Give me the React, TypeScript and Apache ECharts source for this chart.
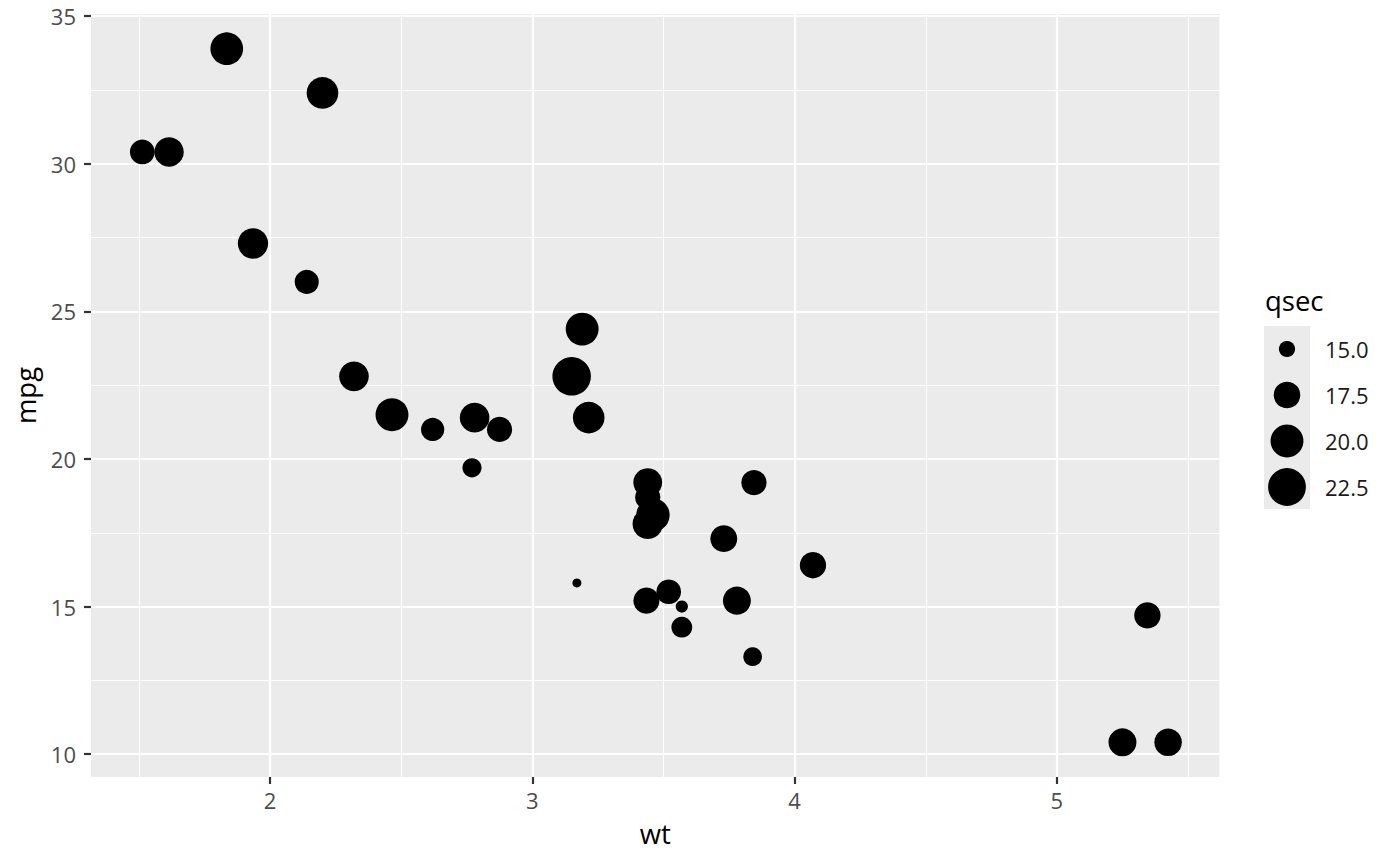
import React, { useEffect, useRef } from "react";
import * as echarts from "echarts";

// mtcars: weight (1000 lbs), miles per gallon, quarter-mile time
const wt = [2.62, 2.875, 2.32, 3.215, 3.44, 3.46, 3.57, 3.19, 3.15, 3.44, 3.44, 4.07, 3.73, 3.78, 5.25, 5.424, 5.345, 2.2, 1.615, 1.835, 2.465, 3.52, 3.435, 3.84, 3.845, 1.935, 2.14, 1.513, 3.17, 2.77, 3.57, 2.78];
const mpg = [21.0, 21.0, 22.8, 21.4, 18.7, 18.1, 14.3, 24.4, 22.8, 19.2, 17.8, 16.4, 17.3, 15.2, 10.4, 10.4, 14.7, 32.4, 30.4, 33.9, 21.5, 15.5, 15.2, 13.3, 19.2, 27.3, 26.0, 30.4, 15.8, 19.7, 15.0, 21.4];
const qsec = [16.46, 17.02, 18.61, 19.44, 17.02, 20.22, 15.84, 20.0, 22.9, 18.3, 18.9, 17.4, 17.6, 18.0, 17.98, 17.82, 17.42, 19.47, 18.52, 19.9, 20.01, 16.87, 17.3, 15.41, 17.05, 18.9, 16.7, 16.9, 14.5, 15.5, 14.6, 18.6];

const xTicks = [2, 3, 4, 5];
const xMinor = [1.5, 2.5, 3.5, 4.5, 5.5];
const yTicks = [10, 15, 20, 25, 30, 35];
const yMinor = [12.5, 17.5, 22.5, 27.5, 32.5];
const legendValues = [15.0, 17.5, 20.0, 22.5];

const FONT = "'Open Sans', 'Noto Sans', sans-serif";

const qMin = Math.min(...qsec);
const qMax = Math.max(...qsec);
const sizeOf = (q: number) => {
  const t = Math.sqrt(Math.max(0, (q - qMin) / (qMax - qMin)));
  return 9 + 29.5 * t;
};

const expand = (lo: number, hi: number) => {
  const d = (hi - lo) * 0.05;
  return [lo - d, hi + d];
};

export default function App() {
  const ref = useRef<HTMLDivElement>(null);

  useEffect(() => {
    if (!ref.current) return;
    const chart = echarts.init(ref.current, null, { renderer: "svg" });
    const [xMin, xMax] = expand(Math.min(...wt), Math.max(...wt));
    const [yMin, yMax] = expand(Math.min(...mpg), Math.max(...mpg));

    const major = { color: "#FFFFFF", width: 2.2, type: "solid" };
    const minor = { color: "#FFFFFF", width: 1.1, type: "solid" };
    const gridLines = [
      ...xMinor.map((v) => ({ xAxis: v, lineStyle: minor })),
      ...yMinor.map((v) => ({ yAxis: v, lineStyle: minor })),
      ...xTicks.map((v) => ({ xAxis: v, lineStyle: major })),
      ...yTicks.map((v) => ({ yAxis: v, lineStyle: major })),
    ];

    const legendTop = 326;
    const keyH = 46;
    const graphic: any[] = [
      {
        type: "text",
        left: 1265,
        top: 300 - 14,
        style: { text: "qsec", font: `27.5px ${FONT}`, fill: "#000000" },
      },
      {
        type: "rect",
        shape: { x: 1264, y: legendTop, width: 46, height: keyH * legendValues.length - 1 },
        style: { fill: "#EBEBEB" },
      },
    ];
    legendValues.forEach((v, i) => {
      const cy = legendTop + keyH * i + keyH / 2;
      graphic.push({
        type: "circle",
        shape: { cx: 1287, cy, r: sizeOf(v) / 2 },
        style: { fill: "#000000" },
      });
      graphic.push({
        type: "text",
        x: 1325,
        y: cy,
        style: {
          text: v.toFixed(1),
          font: `22px ${FONT}`,
          fill: "#1A1A1A",
          verticalAlign: "middle",
          align: "left",
        },
      });
    });

    chart.setOption({
      animation: false,
      backgroundColor: "#FFFFFF",
      textStyle: { fontFamily: FONT },
      grid: {
        left: 91,
        top: 14,
        width: 1128.4,
        height: 763,
        show: true,
        backgroundColor: "#EBEBEB",
        borderWidth: 0,
      },
      xAxis: {
        type: "value",
        min: xMin,
        max: xMax,
        name: "wt",
        nameLocation: "middle",
        nameGap: 42,
        nameTextStyle: { fontSize: 27.5, color: "#000000", fontFamily: FONT },
        axisLine: { show: false },
        axisTick: {
          show: true,
          customValues: xTicks,
          length: 7,
          lineStyle: { color: "#333333", width: 2.2 },
        },
        axisLabel: {
          customValues: xTicks,
          color: "#4D4D4D",
          fontSize: 22,
          fontFamily: FONT,
          margin: 12,
        },
        splitLine: { show: false },
        minorSplitLine: { show: false },
      },
      yAxis: {
        type: "value",
        min: yMin,
        max: yMax,
        name: "mpg",
        nameLocation: "middle",
        nameGap: 49,
        nameTextStyle: { fontSize: 27.5, color: "#000000", fontFamily: FONT },
        axisLine: { show: false },
        axisTick: {
          show: true,
          customValues: yTicks,
          length: 7,
          lineStyle: { color: "#333333", width: 2.2 },
        },
        axisLabel: {
          customValues: yTicks,
          color: "#4D4D4D",
          fontSize: 22,
          fontFamily: FONT,
          margin: 15,
        },
        splitLine: { show: false },
        minorSplitLine: { show: false },
      },
      graphic,
      series: [
        {
          type: "scatter",
          z: 3,
          data: wt.map((w, i) => [w, mpg[i], qsec[i]]),
          symbol: "circle",
          symbolSize: (v: number[]) => sizeOf(v[2]),
          itemStyle: { color: "#000000", opacity: 1 },
          emphasis: { disabled: true },
          silent: true,
          markLine: {
            z: 1,
            silent: true,
            symbol: ["none", "none"],
            label: { show: false },
            emphasis: { disabled: true },
            animation: false,
            data: gridLines,
          },
        },
      ],
    });
    return () => chart.dispose();
  }, []);

  return (
    <div
      ref={ref}
      style={{ position: "fixed", left: 0, top: 0, width: 1400, height: 866 }}
    />
  );
}
